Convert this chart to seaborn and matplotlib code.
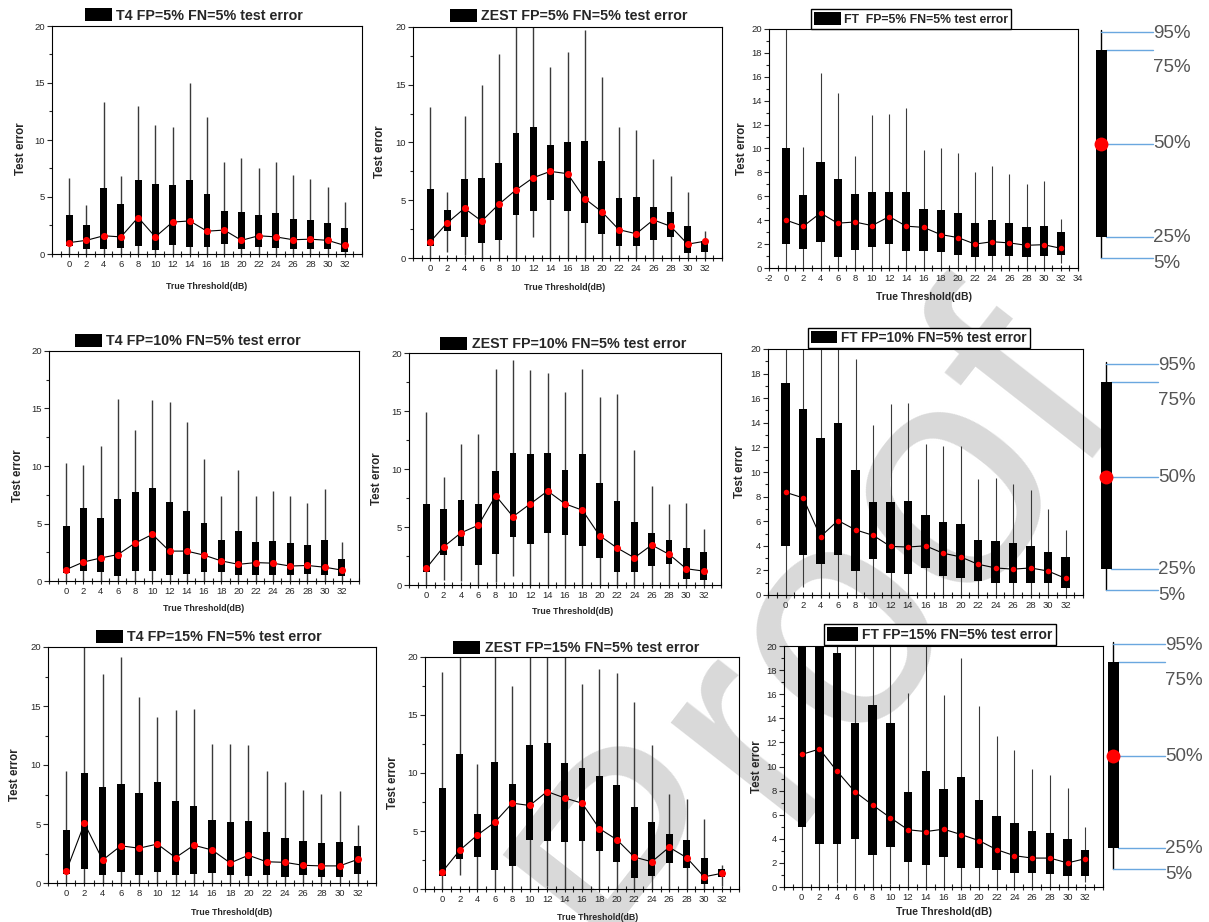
import numpy as np
import pandas as pd
import seaborn as sns
import matplotlib.pyplot as plt
from matplotlib.patches import Patch
from matplotlib.ticker import MultipleLocator

thresholds = list(range(0, 33, 2))

# each panel: rows are the 5%, 25%, 50%, 75%, 95% test error at every threshold
# (21 means the value runs off the top of the 0-20 axis)
t4_fp5 = [
    [0] * 17,
    [0.7, 0.4, 0.45, 0.5, 0.7, 0.35, 0.8, 0.6, 0.6, 0.85, 0.4, 0.6, 0.5, 0.45, 0.45, 0.45, 0.15],
    [1.0, 1.2, 1.6, 1.5, 3.2, 1.5, 2.8, 2.9, 2.0, 2.1, 1.2, 1.6, 1.5, 1.25, 1.3, 1.2, 0.75],
    [3.4, 2.55, 5.8, 4.35, 6.5, 6.1, 6.05, 6.5, 5.3, 3.8, 3.7, 3.45, 3.6, 3.1, 2.95, 2.7, 2.25],
    [6.7, 4.3, 13.3, 6.8, 13.0, 11.3, 11.15, 15.0, 12.05, 8.05, 8.4, 7.5, 8.05, 6.9, 6.55, 5.9, 4.6],
]
zest_fp5 = [
    [0, 0.5, 0.3, 0, 0, 0, 1.8, 0, 0, 0, 0, 0, 0, 0, 0, 0, 0],
    [1.0, 2.3, 1.85, 1.3, 1.6, 3.75, 4.1, 5.05, 4.05, 3.0, 2.1, 1.0, 1.05, 1.55, 1.85, 0.45, 0.5],
    [1.4, 3.05, 4.3, 3.2, 4.65, 5.9, 6.95, 7.5, 7.3, 5.15, 4.0, 2.45, 2.1, 3.3, 2.75, 1.2, 1.45],
    [6.0, 4.15, 6.8, 6.95, 8.25, 10.85, 11.3, 9.8, 10.05, 10.1, 8.4, 5.2, 5.3, 4.45, 3.95, 2.8, 1.45],
    [13.1, 5.75, 12.3, 15.0, 17.7, 21, 21, 16.5, 17.8, 19.7, 15.7, 11.35, 11.1, 8.55, 7.1, 5.75, 2.35],
]
ft_fp5 = [
    [0, 0, 0, 0, 0, 0.15, 0, 0, 0, 0, 0, 0, 0, 0, 0, 0, 0.4],
    [2.0, 1.55, 2.2, 0.9, 1.5, 1.75, 2.0, 1.45, 1.45, 1.35, 1.05, 0.9, 1.0, 1.0, 0.9, 1.0, 1.1],
    [4.0, 3.5, 4.6, 3.75, 3.85, 3.55, 4.3, 3.5, 3.4, 2.8, 2.55, 2.0, 2.2, 2.1, 1.9, 1.95, 1.65],
    [10.05, 6.1, 8.85, 7.45, 6.2, 6.4, 6.4, 6.4, 4.9, 4.85, 4.6, 3.75, 4.0, 3.8, 3.4, 3.55, 3.0],
    [21, 10.1, 16.3, 14.65, 9.35, 12.8, 12.9, 13.4, 9.85, 10.0, 9.6, 8.0, 8.5, 7.9, 7.0, 7.25, 4.1],
]
t4_fp10 = [
    [0, 0, 0, 0, 0, 0.15, 0, 0, 0, 0, 0, 0, 0, 0, 0, 0, 0],
    [0.7, 0.9, 0.8, 0.45, 0.9, 0.9, 0.55, 0.65, 0.8, 0.75, 0.55, 0.55, 0.5, 0.5, 0.6, 0.55, 0.45],
    [1.0, 1.65, 2.0, 2.3, 3.3, 4.05, 2.6, 2.6, 2.25, 1.75, 1.45, 1.6, 1.55, 1.3, 1.35, 1.2, 0.95],
    [4.8, 6.35, 5.5, 7.15, 7.7, 8.1, 6.9, 6.05, 5.0, 3.55, 4.35, 3.4, 3.5, 3.3, 3.15, 3.6, 1.9],
    [10.3, 10.1, 11.75, 15.85, 13.1, 15.75, 15.6, 13.85, 10.65, 7.4, 9.65, 7.35, 7.8, 7.35, 6.8, 8.0, 3.35],
]
zest_fp10 = [
    [0, 0.45, 0.35, 0, 0.3, 0.75, 0, 0, 0, 0, 0, 0, 0, 0, 0, 0, 0],
    [1.1, 2.55, 3.35, 1.7, 2.65, 4.1, 3.55, 4.5, 4.35, 3.4, 2.3, 1.1, 1.1, 1.6, 1.8, 0.55, 0.4],
    [1.45, 3.3, 4.5, 5.15, 7.7, 5.9, 7.0, 8.1, 7.0, 6.45, 4.25, 3.2, 2.35, 3.45, 2.65, 1.4, 1.2],
    [7.0, 6.55, 7.3, 6.95, 9.8, 11.35, 11.25, 11.35, 9.95, 11.25, 8.75, 7.25, 5.4, 4.5, 3.85, 3.2, 2.85],
    [14.9, 9.35, 12.15, 13.05, 18.6, 19.4, 18.5, 18.3, 16.6, 18.6, 16.2, 16.45, 11.6, 8.5, 6.95, 7.1, 4.85],
]
ft_fp10 = [
    [0, 0.65, 0, 0.15, 0, 0.15, 0, 0, 0, 0, 0, 0, 0, 0, 0, 0, 0],
    [3.95, 3.25, 2.5, 3.25, 1.95, 2.95, 1.75, 1.7, 2.2, 1.55, 1.4, 1.15, 0.95, 0.95, 0.95, 0.95, 0.55],
    [8.35, 7.9, 4.75, 6.05, 5.3, 4.85, 3.95, 3.9, 4.0, 3.4, 3.1, 2.5, 2.2, 2.1, 2.2, 1.95, 1.35],
    [17.2, 15.15, 12.8, 13.95, 10.2, 7.6, 7.55, 7.65, 6.5, 5.9, 5.8, 4.5, 4.4, 4.25, 4.0, 3.5, 3.1],
    [21, 21, 21, 21, 19.2, 13.8, 15.5, 15.65, 12.3, 12.1, 12.1, 9.45, 9.5, 9.05, 8.5, 7.0, 5.3],
]
t4_fp15 = [
    [0] * 17,
    [0.8, 1.15, 0.65, 0.9, 0.7, 0.95, 0.65, 0.8, 0.85, 0.65, 0.6, 0.65, 0.55, 0.65, 0.55, 0.55, 0.75],
    [1.0, 5.05, 1.95, 3.15, 2.95, 3.3, 2.15, 3.2, 2.8, 1.7, 2.35, 1.8, 1.75, 1.5, 1.45, 1.45, 2.0],
    [4.45, 9.35, 8.1, 8.35, 7.65, 8.6, 6.95, 6.55, 5.3, 5.2, 5.25, 4.35, 3.85, 3.6, 3.4, 3.5, 3.1],
    [9.45, 21, 17.7, 19.15, 15.8, 14.05, 14.65, 14.75, 11.75, 11.75, 11.7, 9.45, 8.55, 7.9, 7.55, 7.8, 4.95],
]
zest_fp15 = [
    [0, 1.25, 0, 0, 0, 0, 0.3, 0, 0, 0, 0, 0, 0, 0, 0, 0, 0.25],
    [1.1, 2.55, 2.8, 1.6, 1.95, 4.25, 4.15, 4.05, 4.1, 3.25, 2.3, 0.95, 1.15, 2.2, 1.8, 0.4, 1.0],
    [1.5, 3.35, 4.65, 5.75, 7.4, 7.2, 8.4, 7.85, 7.4, 5.2, 4.25, 2.75, 2.35, 3.6, 2.7, 1.05, 1.35],
    [8.75, 11.65, 6.5, 10.95, 9.05, 12.45, 12.55, 10.9, 10.4, 9.75, 8.95, 7.1, 5.8, 4.7, 4.25, 2.7, 1.75],
    [18.75, 21, 10.8, 21, 17.5, 21, 21, 21, 17.65, 18.95, 18.65, 16.1, 12.45, 8.15, 7.8, 6.0, 2.05],
]
ft_fp15 = [
    [0, 0, 0.3, 0, 0, 0.25, 0, 0, 0, 0, 0, 0, 0, 0, 0, 0, 0.4],
    [5.0, 3.55, 3.55, 3.95, 2.65, 3.3, 2.05, 1.8, 2.45, 1.55, 1.6, 1.4, 1.15, 1.15, 1.05, 0.95, 0.95],
    [11.0, 11.45, 9.6, 7.9, 6.8, 5.75, 4.75, 4.6, 4.8, 4.35, 3.85, 3.1, 2.6, 2.4, 2.4, 2.0, 2.35],
    [21, 21, 19.4, 13.65, 15.1, 13.65, 7.85, 9.6, 8.1, 9.1, 7.2, 5.9, 5.3, 4.65, 4.45, 3.95, 3.1],
    [21, 21, 21, 21, 21, 21, 16.1, 21, 15.9, 19.0, 15.0, 12.5, 11.4, 9.8, 9.3, 8.2, 5.0],
]

titles = ["T4 FP=5% FN=5% test error", "ZEST FP=5% FN=5% test error", "FT  FP=5% FN=5% test error",
          "T4 FP=10% FN=5% test error", "ZEST FP=10% FN=5% test error", "FT FP=10% FN=5% test error",
          "T4 FP=15% FN=5% test error", "ZEST FP=15% FN=5% test error", "FT FP=15% FN=5% test error"]
key_labels = ["95%", "75%", "50%", "25%", "5%"]

sns.set_style("ticks")
plt.rcParams['font.family'] = ['Liberation Sans', 'DejaVu Sans']
plt.rcParams['axes.unicode_minus'] = False

W, H = 1209, 922
fig = plt.figure(figsize=(W / 100, H / 100), dpi=100)

# background layer in pixel units: watermark + percentile keys
bg = fig.add_axes([0, 0, 1, 1], zorder=-1)
bg.set_xlim(0, W)
bg.set_ylim(H, 0)
bg.axis('off')
bg.text(820, 638, "Proof", fontsize=230, color='#d9d9d9', rotation=52,
        ha='center', va='center', rotation_mode='anchor', zorder=0)

# key: x of whisker, y of 95/75/50/25/5 levels (pixels)
key_x = [1101, 1106, 1113]
key_y = [[32, 50, 144, 237, 258], [364, 382, 477, 569, 590], [644, 662, 756, 848, 869]]
for kx, ky in zip(key_x, key_y):
    y95, y75, y50, y25, y5 = ky
    bg.plot([kx, kx], [y95 - 2, y5], color='black', lw=1.0, zorder=2)
    bg.fill_between([kx - 5.5, kx + 5.5], y75, y25, color='black', lw=0, zorder=3)
    bg.plot([kx], [y50], 'o', color='red', ms=10, mec='none', zorder=4)
    for lvl, x0 in zip(ky, [kx, kx + 5, kx + 5, kx + 5, kx]):
        bg.plot([x0, kx + 52], [lvl, lvl], color='#6aa7df', lw=1.0, zorder=2)
    offs = [1, 18, 0, 0, 5]
    for lab, lvl, off in zip(key_labels, ky, offs):
        bg.text(kx + 52, lvl + off, lab, fontsize=13.5, color='#555555',
                ha='left', va='center', zorder=5)


def draw_panel(ax, stats, width, dot, wlw):
    p5, p25, p50, p75, p95 = [np.array(r, dtype=float) for r in stats]
    x = np.array(thresholds)
    ax.vlines(x, p5, p95, color='#3a3a3a', lw=wlw, zorder=1)
    ax.bar(x, p75 - p25, bottom=p25, width=width, color='black', lw=0, zorder=2)
    df = pd.DataFrame({'x': x, 'med': p50})
    sns.lineplot(data=df, x='x', y='med', color='black', lw=0.8, ax=ax, zorder=3)
    sns.scatterplot(data=df, x='x', y='med', color='red', s=dot, linewidth=0, ax=ax, zorder=4)


def add_title(ax, text, cx, cy, size, frame, hl, hh):
    handle = Patch(facecolor='black', edgecolor='black', linewidth=0)
    leg = ax.legend([handle], [text], loc='center', bbox_to_anchor=(cx / W, 1 - cy / H),
                    bbox_transform=fig.transFigure, frameon=frame, fancybox=False,
                    edgecolor='black', framealpha=1, prop={'weight': 'bold', 'size': size},
                    handlelength=hl, handleheight=hh, handletextpad=0.3,
                    borderpad=0.25, borderaxespad=0)
    leg.get_frame().set_linewidth(1.0)


# axes rectangles in pixels: left, right, top, bottom
rects = [(52, 362, 26, 254), (413, 722, 27, 258), (769, 1078, 29, 268),
         (49, 359, 351, 581), (409, 721, 353, 585), (768, 1083, 349, 595),
         (48, 376, 647, 883), (425, 739, 657, 889), (784, 1103, 646, 887)]
title_pos = [(194, 15.5, 10.3, 1.9, 1.0), (569, 16, 10.3, 1.9, 1.0), (911, 19, 8.8, 2.2, 1.15),
             (188, 341, 10.3, 1.9, 1.0), (563, 344, 10.3, 1.9, 1.0), (919, 338, 9.8, 1.9, 1.0),
             (209, 637, 10.3, 1.9, 1.0), (576, 648, 10.3, 1.9, 1.0), (940, 634.5, 10.0, 2.2, 1.1)]
ylab_x = [-0.080, -0.087, -0.067, -0.081, -0.082, -0.070, -0.083, -0.083, -0.065]
xlab_pos = [(0.5, -0.121), (0.49, -0.107), (0.5, -0.102), (0.5, -0.10), (0.525, -0.093),
            None, (0.56, -0.107), (0.55, -0.102), (0.5, -0.082)]
data = [t4_fp5, zest_fp5, ft_fp5, t4_fp10, zest_fp10, ft_fp10, t4_fp15, zest_fp15, ft_fp15]

for i, (stats, (l, r, t, b)) in enumerate(zip(data, rects)):
    ft = (i % 3 == 2)
    ax = fig.add_axes([l / W, 1 - b / H, (r - l) / W, (b - t) / H])
    ax.set_facecolor('none')
    if ft:
        draw_panel(ax, stats, 0.95, 16, 0.8)
    else:
        draw_panel(ax, stats, 0.8, 26, 1.0)
    ax.set_xlim(-2, 34)
    ax.set_ylim(0, 20)
    if i == 2:
        ax.set_xticks(range(-2, 35, 2))
    else:
        ax.set_xticks(thresholds)
    ax.xaxis.set_minor_locator(MultipleLocator(1))
    if ft:
        ax.yaxis.set_major_locator(MultipleLocator(2))
        ax.yaxis.set_minor_locator(MultipleLocator(1))
    else:
        ax.yaxis.set_major_locator(MultipleLocator(5))
        ax.yaxis.set_minor_locator(MultipleLocator(2.5))
    ax.tick_params(axis='x', which='major', direction='inout', length=5, width=0.8,
                   labelsize=6.8, pad=2)
    ax.tick_params(axis='x', which='minor', direction='inout', length=4, width=0.8)
    ax.tick_params(axis='y', which='major', direction='out', length=3.5, width=0.8,
                   labelsize=6.8, pad=1.5)
    ax.tick_params(axis='y', which='minor', direction='out', length=2, width=0.8)
    for s in ax.spines.values():
        s.set_color('black')
        s.set_linewidth(0.8)
    ax.set_ylabel("Test error", fontsize=8.3, fontweight='bold')
    ax.yaxis.set_label_coords(ylab_x[i], 0.5 if ft else 0.46)
    if xlab_pos[i] is not None:
        ax.set_xlabel("True Threshold(dB)", fontsize=7.5 if ft else 6.3, fontweight='bold')
        ax.xaxis.set_label_coords(*xlab_pos[i])
    else:
        ax.set_xlabel("")
    cx, cy, fs, hl, hh = title_pos[i]
    add_title(ax, titles[i], cx, cy, fs, ft, hl, hh)

plt.savefig("out.png", dpi=100)
